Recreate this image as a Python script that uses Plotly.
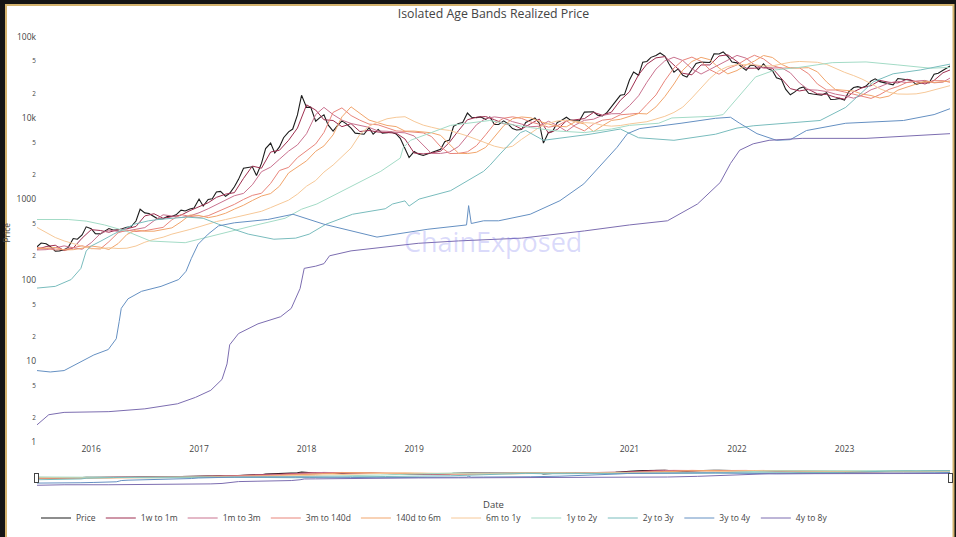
import plotly.graph_objects as go

# ---------------------------------------------------------------------------
# Data
# ---------------------------------------------------------------------------
# BTC price, sampled on the 1st and 15th of each month (USD)
price_dates = [f"{y}-{m:02d}-{d:02d}" for y in range(2015, 2024) for m in range(1, 13)
               for d in (1, 15) if (y, m) >= (2015, 7)] + ["2023-12-25"]
price = [
    258, 287, 281, 261, 228, 230, 238, 254, 326, 320, 362, 455,
    432, 375, 372, 402, 434, 415, 416, 430, 450, 456, 537, 750,
    676, 664, 606, 567, 573, 608, 615, 640, 730, 712, 754, 778,
    1000, 820, 988, 1010, 1222, 1245, 1080, 1180, 1420, 1750, 2400, 2450,
    2500, 1950, 2750, 4200, 4900, 3700, 4400, 5700, 6750, 7300, 10900, 19000,
    13500, 13600, 9100, 10100, 10900, 8200, 6900, 8000, 9200, 8500, 7500, 6500,
    6400, 6300, 7600, 6300, 7200, 6500, 6600, 6700, 6350, 5600, 4200, 3250,
    3850, 3600, 3450, 3600, 3800, 3900, 4100, 5100, 5350, 7900, 8550, 8800,
    11500, 10200, 10100, 10300, 9600, 10300, 8300, 8300, 9200, 8500, 7400, 7100,
    7200, 8800, 9400, 10000, 8600, 4900, 6600, 6800, 8800, 9300, 10200, 9400,
    9200, 9200, 11800, 11800, 11900, 10800, 10600, 11500, 13800, 16000, 19000, 19400,
    29300, 36800, 33500, 48600, 49600, 55800, 59000, 63200, 57800, 46500, 36700, 40200,
    33500, 31800, 39900, 47000, 48800, 48100, 48200, 61500, 61300, 65000, 57200, 48900,
    47700, 43100, 38700, 44500, 44400, 39300, 46300, 40500, 38500, 31300, 29800, 22600,
    19300, 20800, 23300, 24100, 20100, 19700, 19300, 19100, 20500, 16900, 17000, 17400,
    16600, 20900, 23700, 24300, 23600, 24700, 28500, 30300, 28000, 27200, 26800, 25600,
    30600, 30300, 29700, 29200, 25900, 26600, 27900, 27000, 34600, 35600, 38700, 42200,
    43600,
]

# Monthly realized price of the younger age bands (USD)
band_dates = [f"{y}-{m:02d}-01" for y in range(2015, 2024) for m in range(1, 13)
              if (y, m) >= (2015, 7)] + ["2023-12-25"]

rp_1w_1m = [
    240, 260, 270, 232, 250, 330, 420, 410, 390, 420,
    430, 460, 620, 660, 580, 605, 635, 720, 800, 900,
    1050, 1150, 1200, 1800, 2550, 2400, 3800, 4000, 5300, 7500,
    14500, 12500, 9500, 9300, 7800, 8500, 6800, 7000, 6700, 6600,
    6500, 5500, 3700, 3600, 3700, 3900, 5000, 7000, 9500, 10200,
    10400, 9500, 8500, 8300, 7300, 8500, 9700, 6500, 7200, 9200,
    9500, 9800, 11700, 10800, 11800, 16500, 21000, 34000, 46000, 55000,
    57000, 45000, 35500, 34000, 45000, 45000, 58000, 60000, 49000, 41000,
    41000, 42000, 41000, 31000, 23000, 21500, 22500, 19800, 19500, 18000,
    17000, 21000, 23500, 25000, 29000, 27500, 27000, 30000, 28000, 26200,
    29000, 36000, 39000,
]
rp_1m_3m = [
    236, 238, 250, 265, 251, 241, 290, 375, 415, 400,
    405, 425, 445, 540, 640, 620, 592, 620, 678, 760,
    850, 975, 1100, 1175, 1500, 2175, 2475, 3100, 3900, 4650,
    6400, 11000, 13500, 11000, 9400, 8550, 8150, 7650, 6900, 6850,
    6650, 6550, 6000, 4600, 3650, 3650, 3800, 4450, 6000, 8250,
    9850, 10300, 9950, 9000, 8400, 7800, 7900, 9100, 8100, 6850,
    8200, 9350, 9650, 10750, 11250, 11300, 14150, 18750, 27500, 40000,
    50500, 56000, 51000, 40250, 34750, 39500, 45000, 51500, 59000, 54500,
    45000, 41000, 41500, 41500, 36000, 27000, 22250, 22000, 21150, 19650,
    18750, 17500, 19000, 22250, 24250, 27000, 28250, 27250, 28500, 29000,
    27100, 27600, 31000,
]
rp_3m_140d = [
    253, 247, 236, 239, 252, 266, 247, 243, 298, 384,
    414, 398, 408, 426, 448, 556, 644, 612, 595, 623,
    686, 768, 860, 990, 1110, 1180, 1560, 2250, 2460, 3240,
    3920, 4780, 6620, 11700, 13300, 10700, 9380, 8400, 8220, 7480,
    6920, 6820, 6640, 6540, 5900, 4420, 3640, 3660, 3820, 4560,
    6200, 8500, 9920, 10320, 9860, 8900, 8380, 7700, 8020, 9220,
    7780, 6920, 8400, 9380, 9680, 10940, 11160, 11400, 14620, 19200,
    28800, 41200, 51400, 56200, 49800, 39300, 34600, 40600, 45000, 52800,
    59200, 53400, 44200, 41000, 41600, 41400, 35000, 26200, 22100, 22100,
    20880, 19620, 18600, 17400, 19400, 22500, 24400, 27400, 28100, 27200,
    28800, 28800, 27500,
]
rp_140d_6m = [
    244, 247, 253, 236, 238, 248, 264, 255, 239, 282,
    366, 416, 402, 402, 424, 442, 524, 636, 628, 590,
    617, 669, 752, 840, 960, 1090, 1170, 1440, 2100, 2490,
    2960, 3880, 4520, 6180, 10300, 13700, 11300, 9420, 8700, 8080,
    7820, 6880, 6880, 6660, 6560, 6100, 4780, 3660, 3640, 3780,
    4340, 5800, 8000, 9780, 10280, 10040, 9100, 8420, 7900, 7780,
    8980, 8420, 6780, 8000, 9320, 9620, 10560, 11340, 11200, 13680,
    18300, 26200, 38800, 49600, 55800, 52200, 41200, 34900, 38400, 45000,
    50200, 58800, 55600, 45800, 41000, 41400, 41600, 37000, 27800, 22400,
    21900, 21420, 19680, 18900, 17600, 18600, 22000, 24100, 26600, 28400,
    27300, 28200, 28500,
]
rp_6m_1y = [
    447, 385, 336, 305, 283, 260, 244, 245, 251, 246,
    248, 264, 294, 319, 339, 370, 400, 422, 455, 497,
    528, 559, 593, 637, 667, 707, 785, 876, 970, 1150,
    1442, 1692, 2150, 2625, 3308, 4258, 6250, 7933, 8883, 9767,
    10183, 10350, 9067, 8150, 7683, 7233, 7017, 6517, 6000, 5433,
    4933, 4483, 4233, 4483, 5450, 6550, 7667, 8600, 9183, 9400,
    9033, 8750, 8633, 8133, 7917, 8067, 8433, 8650, 8983, 9700,
    10467, 11683, 13600, 17633, 23350, 30717, 38250, 43000, 45417, 45417,
    45250, 43583, 43750, 46250, 48500, 49667, 49000, 48500, 45667, 40833,
    36500, 33250, 30167, 26467, 22883, 20717, 19717, 19633, 19800, 20667,
    22250, 23833, 25000,
]

# Older age bands, read at their turning points (USD)
d_1y_2y = ["2015-07-01", "2015-10-15", "2015-12-15", "2016-02-15", "2016-05-01", "2016-07-20",
           "2016-11-15", "2017-03-08", "2017-07-01", "2017-10-20", "2017-12-15", "2018-02-05",
           "2018-05-25", "2018-09-10", "2018-11-15", "2018-11-25", "2018-12-20", "2019-05-05",
           "2019-09-15", "2019-11-15",
           "2020-02-01", "2020-05-01", "2020-08-01", "2020-11-01", "2021-01-01", "2021-04-10",
           "2021-05-25", "2021-10-15", "2021-11-15", "2022-01-10", "2022-03-05", "2022-05-10",
           "2022-08-01", "2022-11-20", "2023-03-15", "2023-07-01", "2023-10-20", "2023-12-25"]
rp_1y_2y = [560, 560, 535, 480, 400, 304,
            290, 370, 467, 580, 750, 870,
            1370, 2200, 3200, 4300, 5300, 8100,
            9300, 8400,
            7600, 6900, 6600, 7300, 8100, 8600,
            10000, 10500, 11000, 19000, 32000, 39000,
            42000, 48000, 49000, 45000, 41000, 42000]

d_2y_3y = ["2015-07-01", "2015-09-01", "2015-10-25", "2015-11-27", "2015-12-15", "2016-01-01",
           "2016-02-03", "2016-03-17", "2016-05-26", "2016-07-13", "2016-08-15", "2016-11-20",
           "2017-01-15", "2017-03-08", "2017-06-17", "2017-09-12", "2017-11-25", "2018-01-10",
           "2018-03-08", "2018-06-06", "2018-09-25", "2018-10-20", "2018-12-01", "2018-12-15",
           "2019-01-18", "2019-05-05", "2019-08-25", "2019-09-15", "2019-10-20", "2019-12-28",
           "2020-01-15",
           "2020-03-15", "2020-08-20", "2020-12-01", "2021-02-01", "2021-06-01", "2021-10-20",
           "2022-01-01", "2022-02-25", "2022-10-10", "2023-01-05", "2023-02-25", "2023-04-10",
           "2023-06-15", "2023-09-15", "2023-12-25"]
rp_2y_3y = [80, 84, 102, 140, 229, 264,
            304, 370, 490, 539, 560, 600,
            580, 490, 370, 320, 330, 370,
            490, 650, 760, 870, 950, 820,
            1000, 1270, 2200, 2600, 3600, 6600,
            7000,
            5300, 6300, 7300, 5700, 5300, 6300,
            7500, 8000, 9300, 13500, 20000, 28000,
            35000, 39000, 46000]

d_3y_4y = ["2015-07-01", "2015-08-15", "2015-10-01", "2015-11-27", "2016-01-10", "2016-02-28",
           "2016-03-26", "2016-04-05", "2016-04-12", "2016-05-05", "2016-06-20", "2016-08-25",
           "2016-10-24", "2016-11-18", "2016-12-06", "2016-12-29", "2017-02-01", "2017-03-08",
           "2017-05-01", "2017-08-22", "2017-11-16", "2018-03-01", "2018-05-30", "2018-08-28",
           "2019-02-17", "2019-06-10", "2019-06-28", "2019-07-05", "2019-07-14", "2019-08-25",
           "2019-10-15", "2020-01-30", "2020-05-10", "2020-07-30", "2020-09-20", "2020-11-20",
           "2020-12-25", "2021-02-05", "2021-06-25", "2021-10-20", "2021-12-10", "2022-01-10",
           "2022-03-10", "2022-05-15", "2022-07-01", "2022-08-25", "2023-01-05", "2023-07-20",
           "2023-11-01", "2023-12-25"]
rp_3y_4y = [7.7, 7.4, 7.7, 9.8, 12, 14,
            19, 31, 45, 59, 73, 84,
            102, 129, 186, 278, 370, 467,
            510, 560, 650, 490, 405, 340,
            425, 467, 480, 830, 500, 540,
            540, 650, 955, 1540, 2450, 4350,
            6400, 7400, 8600, 9900, 10200, 8600,
            6400, 5300, 5400, 7000, 8600, 9300,
            11000, 13000]

d_4y_8y = ["2015-07-01", "2015-08-10", "2015-10-01", "2016-03-01", "2016-07-01", "2016-10-20",
           "2016-12-20", "2017-02-10", "2017-03-20", "2017-04-06", "2017-04-15", "2017-05-15",
           "2017-07-20", "2017-10-05", "2017-11-10", "2017-12-10", "2017-12-24", "2018-02-01",
           "2018-03-01", "2018-03-20", "2018-06-01", "2018-10-01", "2019-01-15", "2019-06-01",
           "2020-01-01", "2020-08-01", "2021-01-01", "2021-05-10", "2021-08-20", "2021-11-05",
           "2021-12-10", "2022-01-10", "2022-02-25", "2022-04-20", "2022-08-10", "2023-03-15",
           "2023-09-01", "2023-12-25"]
rp_4y_8y = [1.65, 2.2, 2.35, 2.4, 2.6, 3.0,
            3.6, 4.4, 6, 9.3, 16, 22,
            29, 35.5, 45, 79, 140, 149,
            160, 200, 230, 260, 285, 305,
            330, 405, 480, 540, 870, 1600,
            2750, 4000, 4800, 5300, 5600, 5600,
            6100, 6400]

series = [
    ("Price", price_dates, price, "#1c1c1c"),
    ("1w to 1m", band_dates, rp_1w_1m, "#9e2f50"),
    ("1m to 3m", band_dates, rp_1m_3m, "#c9728f"),
    ("3m to 140d", band_dates, rp_3m_140d, "#e8857b"),
    ("140d to 6m", band_dates, rp_140d_6m, "#f1a56c"),
    ("6m to 1y", band_dates, rp_6m_1y, "#f6c898"),
    ("1y to 2y", d_1y_2y, rp_1y_2y, "#a3dbc6"),
    ("2y to 3y", d_2y_3y, rp_2y_3y, "#79bcbd"),
    ("3y to 4y", d_3y_4y, rp_3y_4y, "#6590c2"),
    ("4y to 8y", d_4y_8y, rp_4y_8y, "#7c6db0"),
]

# ---------------------------------------------------------------------------
# Figure
# ---------------------------------------------------------------------------
fig = go.Figure()
for name, xs, ys, color in series:
    fig.add_trace(go.Scatter(
        x=xs, y=ys, mode="lines", name=name,
        line=dict(color=color, width=1.1 if name == "Price" else 1.0),
    ))

FONT = "Open Sans, verdana, arial, sans-serif"

# plot area in pixels, used to place the card frame around the chart
L, R, T, B = 37, 950, 23, 440
W, H = R - L, B - T


def px_x(p):
    return (p - L) / W


def px_y(p):
    return (B - p) / H


fig.update_layout(
    width=956, height=537,
    margin=dict(l=L, r=956 - R, t=T, b=17),
    paper_bgcolor="#141414",
    plot_bgcolor="rgba(0,0,0,0)",
    font=dict(family=FONT, size=8, color="#444"),
    title=dict(text="Isolated Age Bands Realized Price", x=0.5, xref="paper",
               y=1 - 14 / 537, yanchor="middle", font=dict(size=12.3, color="#444")),
    showlegend=True,
    legend=dict(orientation="h", xref="container", yref="container",
                x=36 / 956, y=(537 - 518) / 537, xanchor="left", yanchor="middle",
                font=dict(size=8.5, color="#444"), bgcolor="rgba(0,0,0,0)"),
    xaxis=dict(
        type="date", range=["2015-07-01", "2023-12-25"],
        dtick="M12", tick0="2016-01-01", tickformat="%Y",
        showgrid=False, zeroline=False, showline=False, ticks="",
        tickfont=dict(size=8.5),
        rangeslider=dict(visible=True, thickness=0.035, bgcolor="#ffffff",
                         bordercolor="#dddddd", borderwidth=0),
    ),
    yaxis=dict(
        type="log", range=[0, 5.17], dtick="D2",
        showgrid=False, zeroline=False, showline=False, ticks="",
        tickfont=dict(size=8.5),
        title=dict(text="Price", font=dict(size=8.5), standoff=4),
    ),
    shapes=[dict(type="rect", xref="paper", yref="paper", layer="below",
                 x0=px_x(6), x1=px_x(953.5), y0=px_y(560), y1=px_y(5),
                 fillcolor="#ffffff", line=dict(color="#d4b36e", width=2))],
    annotations=[
        dict(text="ChainExposed", xref="paper", yref="paper",
             x=px_x(493), y=px_y(240), showarrow=False,
             font=dict(family=FONT, size=27, color="rgba(125,125,240,0.28)")),
        # x-axis title, set under the range slider
        dict(text="Date", xref="paper", yref="paper",
             x=0.5, y=px_y(502), yanchor="middle", showarrow=False,
             font=dict(family=FONT, size=9.5, color="#444")),
    ],
)

fig.write_html("out.html")
